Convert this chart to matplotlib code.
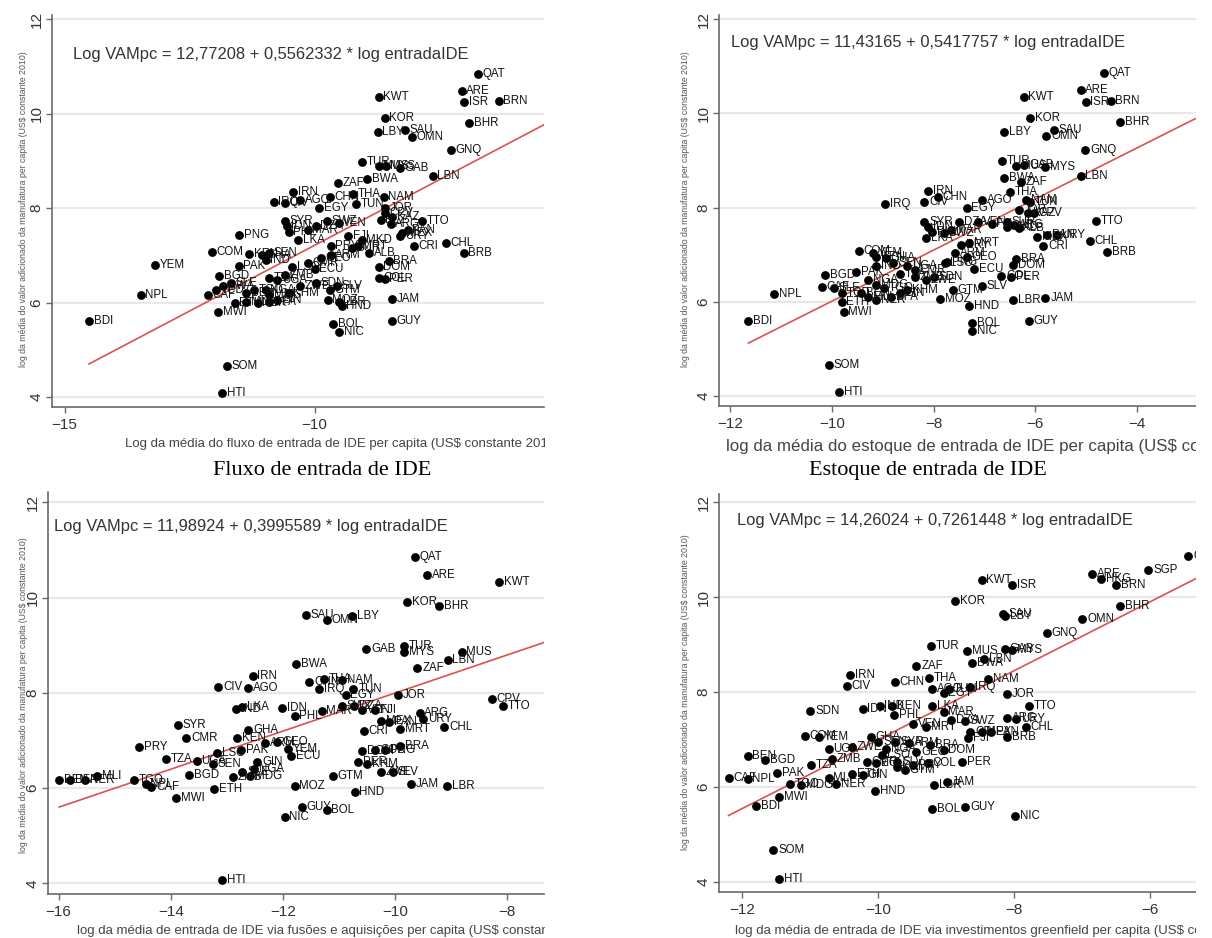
import matplotlib
matplotlib.use("Agg")
import matplotlib.pyplot as plt
from matplotlib.patches import Rectangle

W, H = 1212, 938
plt.rcParams['font.family'] = ['Liberation Sans', 'DejaVu Sans']

# --- painel 1: fluxo de entrada de IDE
cod_fluxo = ["QAT", "ARE", "KWT", "ISR", "BRN", "KOR", "BHR", "LBY", "SAU", "OMN", "GNQ", "TUR", "MUS", "MYS",
             "GAB", "LBN", "BWA", "ZAF", "IRN", "THA", "CHN", "NAM", "IRQ", "CIV", "AGO", "EGY", "TUN", "JOR",
             "CPV", "TTO", "ARG", "URY", "MRT", "CRI", "CHL", "BRB", "BRA", "DOM", "COL", "PER", "JAM", "GUY",
             "SLV", "GTM", "MOZ", "LBR", "HND", "BOL", "NIC", "ECU", "PNG", "COM", "YEM", "NPL", "BDI", "BGD",
             "MWI", "CAF", "ETH", "SOM", "HTI", "PAK", "KEN", "GHA", "SEN", "IND", "SYR", "IDN", "PHL", "LKA",
             "MAR", "DZA", "SWZ", "VEN", "FJI", "SUR", "PRY", "ARM", "GEO", "CMR", "LSO", "ZMB", "UGA", "TZA",
             "NGA", "MDG", "TGO", "BEN", "MLI", "NER", "BFA", "GIN", "KHM", "ZWE", "SDN", "RWA", "SLE", "TCD",
             "MKD", "ALB", "MEX", "PAN", "BLZ", "KAZ"]
x_fluxo = [-6.73, -7.06, -8.72, -7.01, -6.32, -8.60, -6.91, -8.74, -8.20, -8.06, -7.27, -9.06, -8.72, -8.58,
           -8.29, -7.64, -8.95, -9.54, -10.43, -9.23, -9.69, -8.62, -10.82, -10.60, -10.29, -9.91, -9.18, -8.60,
           -8.60, -7.85, -8.48, -8.29, -9.14, -8.02, -7.37, -7.02, -8.52, -8.72, -8.72, -8.60, -8.45, -8.46,
           -9.55, -9.69, -9.74, -9.52, -9.46, -9.63, -9.51, -10.00, -11.51, -12.05, -13.20, -13.48, -14.51, -11.91,
           -11.93, -12.14, -11.60, -11.75, -11.85, -11.52, -11.31, -11.06, -10.91, -10.98, -10.60, -10.56, -10.52, -10.33,
           -10.14, -9.98, -9.75, -9.52, -9.33, -9.25, -9.68, -9.68, -9.87, -10.14, -10.45, -10.60, -10.75, -10.91,
           -10.98, -10.91, -11.22, -11.37, -11.37, -11.14, -10.91, -10.75, -10.52, -10.29, -9.98, -11.83, -11.68, -11.98,
           -9.06, -8.91, -8.25, -8.14, -8.68, -8.45]
y_fluxo = [10.84, 10.48, 10.34, 10.24, 10.27, 9.90, 9.79, 9.60, 9.65, 9.50, 9.23, 8.97, 8.88, 8.90,
           8.84, 8.67, 8.61, 8.54, 8.34, 8.30, 8.23, 8.24, 8.12, 8.10, 8.17, 8.00, 8.09, 8.00,
           7.89, 7.72, 7.67, 7.40, 7.19, 7.19, 7.27, 7.05, 6.89, 6.76, 6.52, 6.50, 6.08, 5.60,
           6.36, 6.26, 6.06, 6.02, 5.92, 5.55, 5.38, 6.71, 7.43, 7.07, 6.80, 6.16, 5.60, 6.57,
           5.79, 6.16, 5.99, 4.65, 4.09, 6.78, 7.03, 7.01, 7.05, 6.90, 7.72, 7.61, 7.50, 7.33,
           7.54, 7.61, 7.72, 7.68, 7.40, 7.15, 7.19, 7.01, 6.94, 6.83, 6.76, 6.59, 6.48, 6.52,
           6.27, 6.16, 6.27, 6.20, 6.02, 5.99, 6.02, 6.06, 6.20, 6.34, 6.41, 6.34, 6.41, 6.27,
           7.33, 7.05, 7.47, 7.54, 7.75, 7.82]

# --- painel 2: estoque de entrada de IDE
cod_estoque = ["QAT", "ARE", "KWT", "ISR", "BRN", "KOR", "BHR", "LBY", "SAU", "OMN", "GNQ", "TUR", "MUS", "GAB",
               "MYS", "LBN", "BWA", "ZAF", "THA", "IRN", "IRQ", "CIV", "AGO", "CHN", "EGY", "TUN", "NAM", "JOR",
               "CPV", "TTO", "ARG", "URY", "CRI", "CHL", "BRB", "MEX", "PAN", "BRA", "DOM", "COL", "PER", "JAM",
               "LBR", "GUY", "SLV", "GTM", "MOZ", "HND", "BOL", "NIC", "ECU", "MRT", "PNG", "COM", "NPL", "BDI",
               "BGD", "SOM", "HTI", "MWI", "ETH", "CAF", "SLE", "TCD", "PAK", "YEM", "KEN", "GHA", "SEN", "IND",
               "TZA", "UGA", "CMR", "NGA", "MDG", "TGO", "BEN", "MLI", "NER", "BFA", "GIN", "KHM", "ZMB", "ZWE",
               "SDN", "SYR", "IDN", "PHL", "LKA", "MAR", "DZA", "SWZ", "VEN", "FJI", "SUR", "PRY", "ARM", "GEO",
               "LSO", "MKD", "ALB", "KAZ"]
x_estoque = [-4.65, -5.11, -6.23, -5.01, -4.52, -6.10, -4.33, -6.61, -5.64, -5.78, -5.02, -6.66, -6.37, -6.22,
             -5.80, -5.11, -6.61, -6.28, -6.50, -8.11, -8.96, -8.18, -7.05, -7.92, -7.35, -6.10, -6.18, -6.33,
             -6.03, -4.80, -6.41, -5.58, -5.84, -4.93, -4.59, -5.97, -5.76, -6.37, -6.44, -6.67, -6.48, -5.80,
             -6.44, -6.13, -7.05, -7.62, -7.88, -7.30, -7.24, -7.24, -7.20, -7.31, -7.73, -9.47, -11.13, -11.64,
             -10.13, -10.06, -9.86, -9.77, -9.81, -10.20, -9.96, -9.81, -9.52, -9.20, -9.13, -8.94, -8.79, -9.13,
             -8.67, -8.52, -8.37, -9.28, -9.13, -8.98, -9.43, -9.28, -9.13, -8.83, -8.67, -8.52, -8.37, -8.15,
             -7.99, -8.18, -8.11, -8.03, -8.15, -7.65, -7.50, -7.80, -7.12, -6.86, -6.56, -7.46, -7.58, -7.35,
             -7.77, -6.56, -6.33, -6.14]
y_estoque = [10.86, 10.49, 10.35, 10.24, 10.27, 9.91, 9.81, 9.61, 9.65, 9.52, 9.23, 8.98, 8.89, 8.90,
             8.87, 8.68, 8.62, 8.55, 8.32, 8.36, 8.07, 8.12, 8.15, 8.22, 7.98, 8.12, 8.17, 7.95,
             7.88, 7.72, 7.63, 7.42, 7.18, 7.28, 7.05, 7.38, 7.42, 6.90, 6.78, 6.55, 6.53, 6.09,
             6.04, 5.60, 6.34, 6.25, 6.06, 5.91, 5.56, 5.39, 6.69, 7.24, 6.85, 7.08, 6.17, 5.60,
             6.57, 4.66, 4.08, 5.79, 6.00, 6.31, 6.29, 6.18, 6.64, 7.03, 6.96, 6.92, 6.82, 6.75,
             6.60, 6.75, 6.67, 6.46, 6.36, 6.29, 6.18, 6.11, 6.04, 6.11, 6.18, 6.25, 6.53, 6.46,
             6.53, 7.70, 7.59, 7.49, 7.35, 7.52, 7.70, 7.45, 7.70, 7.66, 7.70, 7.20, 7.03, 6.96,
             6.82, 7.59, 7.56, 7.88]

# --- painel 3: fusoes e aquisicoes
cod_fa = ["QAT", "ARE", "KWT", "KOR", "BHR", "SAU", "LBY", "OMN", "GAB", "TUR", "MYS", "MUS", "LBN", "ZAF",
          "BWA", "IRN", "CIV", "AGO", "CHN", "THA", "NAM", "IRQ", "TUN", "EGY", "JOR", "CPV", "TTO", "IDN",
          "IND", "LKA", "PHL", "MAR", "SWZ", "DZA", "VEN", "FJI", "ARG", "URY", "MEX", "PAN", "CHL", "MRT",
          "CRI", "SYR", "CMR", "PRY", "GHA", "KEN", "ARM", "GEO", "YEM", "ECU", "PAK", "LSO", "TZA", "UGA",
          "SEN", "BGD", "GIN", "SLE", "MDG", "NGA", "ZMB", "BRA", "DOM", "COL", "PNG", "PER", "KHM", "SLV",
          "ZWE", "GTM", "MOZ", "JAM", "LBR", "HND", "GUY", "BOL", "NIC", "HTI", "ETH", "MWI", "NPL", "CAF",
          "TGO", "MLI", "BEN", "BFA", "NER"]
x_fa = [-9.65, -9.43, -8.14, -9.79, -9.21, -11.59, -10.77, -11.22, -10.51, -9.84, -9.84, -8.81, -9.06, -9.60,
        -11.76, -12.54, -13.15, -12.62, -11.53, -11.26, -10.94, -11.35, -10.74, -10.88, -9.94, -8.27, -8.07, -12.01,
        -12.84, -12.72, -11.79, -11.31, -10.95, -10.73, -10.59, -10.35, -9.56, -9.50, -10.25, -10.11, -9.12, -9.91,
        -10.56, -13.87, -13.72, -14.56, -12.62, -12.82, -12.31, -12.10, -11.90, -11.86, -12.75, -13.17, -14.09, -13.54,
        -13.25, -13.68, -12.46, -12.72, -12.58, -12.51, -12.89, -9.91, -10.58, -10.35, -10.18, -10.66, -10.49, -10.04,
        -10.25, -11.11, -11.79, -9.72, -9.07, -10.72, -11.66, -11.22, -11.97, -13.08, -13.22, -13.91, -14.45, -14.35,
        -14.66, -15.31, -15.99, -15.79, -15.53]
y_fa = [10.85, 10.47, 10.33, 9.90, 9.82, 9.64, 9.62, 9.52, 8.92, 8.99, 8.86, 8.86, 8.68, 8.52,
        8.61, 8.35, 8.12, 8.10, 8.22, 8.29, 8.26, 8.08, 8.08, 7.96, 7.96, 7.87, 7.72, 7.68,
        7.65, 7.70, 7.51, 7.61, 7.72, 7.72, 7.63, 7.63, 7.58, 7.45, 7.40, 7.38, 7.28, 7.24,
        7.19, 7.33, 7.05, 6.86, 7.21, 7.05, 6.95, 6.96, 6.82, 6.68, 6.79, 6.74, 6.60, 6.56,
        6.51, 6.28, 6.54, 6.33, 6.26, 6.40, 6.23, 6.89, 6.77, 6.80, 6.79, 6.54, 6.51, 6.33,
        6.33, 6.26, 6.05, 6.09, 6.04, 5.91, 5.60, 5.53, 5.39, 4.07, 5.98, 5.79, 6.09, 6.02,
        6.16, 6.26, 6.16, 6.16, 6.16]

# --- painel 4: investimentos greenfield
cod_gf = ["QAT", "SGP", "ARE", "HKG", "BRN", "ISR", "KWT", "KOR", "BHR", "SAU", "LBY", "OMN", "GNQ", "TUR",
          "MUS", "GAB", "MYS", "LBN", "BWA", "ZAF", "IRN", "CIV", "CHN", "THA", "AGO", "EGY", "TUN", "NAM",
          "IRQ", "JOR", "TTO", "SDN", "IDN", "IND", "KEN", "PHL", "LKA", "MAR", "DZA", "SWZ", "ARG", "URY",
          "CHL", "CRI", "MEX", "PAN", "BRB", "FJI", "VEN", "MRT", "ARM", "BRA", "DOM", "COL", "PER", "SLV",
          "GTM", "PRY", "JAM", "LBR", "HND", "BOL", "GUY", "NIC", "SOM", "HTI", "BDI", "MWI", "BEN", "BGD",
          "CAF", "NPL", "PAK", "TGO", "MDG", "TZA", "COM", "YEM", "UGA", "ZMB", "MLI", "NER", "ETH", "GIN",
          "CMR", "GHA", "SEN", "NGA", "SYR", "LSO", "KHM", "ZWE", "ECU", "GEO"]
x_gf = [-5.44, -6.03, -6.86, -6.73, -6.51, -8.03, -8.48, -8.87, -6.44, -8.16, -8.14, -7.00, -7.52, -9.22,
        -8.69, -8.14, -8.03, -8.45, -8.62, -9.44, -10.41, -10.46, -9.76, -9.26, -9.21, -9.04, -8.96, -8.39,
        -8.65, -8.11, -7.79, -11.00, -10.23, -9.98, -9.80, -9.77, -9.21, -9.04, -8.93, -8.73, -8.11, -7.97,
        -7.83, -8.65, -8.48, -8.34, -8.10, -8.68, -9.49, -9.30, -9.55, -9.24, -9.04, -9.27, -8.77, -9.72,
        -9.61, -9.49, -8.99, -9.18, -10.04, -9.21, -8.72, -7.99, -11.54, -11.46, -11.79, -11.46, -11.92, -11.66,
        -12.20, -11.92, -11.49, -11.30, -11.13, -10.99, -11.08, -10.87, -10.73, -10.68, -10.73, -10.62, -10.39, -10.23,
        -10.17, -10.11, -10.00, -9.89, -9.75, -9.94, -9.72, -10.39, -10.03, -9.44]
y_gf = [10.86, 10.56, 10.49, 10.39, 10.26, 10.25, 10.36, 9.91, 9.82, 9.64, 9.61, 9.53, 9.25, 8.98,
        8.86, 8.91, 8.88, 8.69, 8.62, 8.54, 8.35, 8.13, 8.22, 8.29, 8.07, 7.99, 8.06, 8.27,
        8.11, 7.96, 7.71, 7.60, 7.64, 7.71, 7.71, 7.51, 7.71, 7.58, 7.42, 7.38, 7.45, 7.44,
        7.26, 7.16, 7.16, 7.16, 7.05, 7.03, 7.33, 7.26, 6.93, 6.89, 6.77, 6.51, 6.53, 6.53,
        6.35, 6.46, 6.11, 6.05, 5.91, 5.54, 5.58, 5.38, 4.67, 4.07, 5.60, 5.79, 6.65, 6.56,
        6.18, 6.16, 6.30, 6.07, 6.04, 6.46, 7.07, 7.05, 6.81, 6.60, 6.18, 6.07, 6.28, 6.26,
        6.53, 7.05, 6.95, 6.81, 6.95, 6.67, 6.42, 6.84, 6.51, 6.74]

# retas ajustadas (Stata lfit)
intercepto = [12.77208, 11.43165, 11.98924, 14.26024]
inclinacao = [0.5562332, 0.5417757, 0.3995589, 0.7261448]

titulos_x = ["Log da média do fluxo de entrada de IDE per capita (US$ constante 2010)",
             "log da média do estoque de entrada de IDE per capita (US$ constante 2010)",
             "log da média de entrada de IDE via fusões e aquisições per capita (US$ constante 2010)",
             "log da média de entrada de IDE via investimentos greenfield per capita (US$ constante 2010)"]
titulo_y = "log da média do valor adicionado da manufatura per capita (US$ constante 2010)"

dados = [(cod_fluxo, x_fluxo, y_fluxo), (cod_estoque, x_estoque, y_estoque),
         (cod_fa, x_fa, y_fa), (cod_gf, x_gf, y_gf)]

# posicoes em pixels: (esq, dir, topo, base), limites, ticks, equacao, xlabel, ylabel
layout = [
    dict(box=(52, 544, 15, 407), xlim=(-15.25, -5.41), ylim=(3.79, 12.085), xt=[-15, -10],
         eq=(73, 55), xl=(125, 444, 9.5), yl=(24, 209)),
    dict(box=(719, 1198, 15, 406), xlim=(-12.22, -2.80), ylim=(3.79, 12.085), xt=[-12, -10, -8, -6, -4],
         eq=(731, 42), xl=(726, 446, 12.2), yl=(685, 209)),
    dict(box=(48, 544, 492, 894), xlim=(-16.19, -7.34), ylim=(3.775, 12.216), xt=[-16, -14, -12, -10, -8],
         eq=(54, 526), xl=(77, 931, 9.5), yl=(24, 695)),
    dict(box=(719, 1198, 494, 892), xlim=(-12.34, -5.30), ylim=(3.79, 12.17), xt=[-12, -10, -8, -6],
         eq=(737, 521), xl=(735, 931, 9.5), yl=(685, 692)),
]

fig = plt.figure(figsize=(W / 100, H / 100), dpi=100)


def fx(px):
    return px / W


def fy(py):
    return 1 - py / H


for i in range(4):
    cod, xs, ys = dados[i]
    lay = layout[i]
    l, r, t, b = lay['box']
    ax = fig.add_axes([fx(l), fy(b), (r - l) / W, (b - t) / H])
    ax.set_xlim(*lay['xlim'])
    ax.set_ylim(*lay['ylim'])
    for s in ['top', 'right']:
        ax.spines[s].set_visible(False)
    for s in ['left', 'bottom']:
        ax.spines[s].set_color('#6a6a6a')
        ax.spines[s].set_linewidth(1.2)
    ax.set_xticks(lay['xt'])
    ax.set_yticks([4, 6, 8, 10, 12])
    ax.tick_params(axis='both', direction='out', length=4, width=1, color='#6a6a6a',
                   labelsize=11, labelcolor='#333333')
    ax.tick_params(axis='x', pad=4)
    ax.tick_params(axis='y', pad=2, labelrotation=90)
    for lab in ax.get_yticklabels():
        lab.set_va('center')
    ax.yaxis.grid(True, color='#e8e8e8', linewidth=1.6)
    ax.set_axisbelow(True)

    # reta ajustada
    x0, x1 = min(xs), lay['xlim'][1]
    ax.plot([x0, x1], [intercepto[i] + inclinacao[i] * x0, intercepto[i] + inclinacao[i] * x1],
            color='#d9534f', linewidth=1.2, zorder=2)
    ax.scatter(xs, ys, s=40, color='black', zorder=3, linewidths=0)
    for c, xv, yv in zip(cod, xs, ys):
        ax.annotate(c, (xv, yv), xytext=(3.5, 0), textcoords='offset points',
                    va='center', ha='left', fontsize=8.3, color='#111111', zorder=4,
                    clip_on=True)

    eq = "Log VAMpc = %.5f + %.7f * log entradaIDE" % (intercepto[i], inclinacao[i])
    fig.text(fx(lay['eq'][0]), fy(lay['eq'][1]), eq.replace('.', ','), fontsize=11.9,
             color='#333333', ha='left', va='center')
    xlx, xly, xls = lay['xl']
    fig.text(fx(xlx), fy(xly), titulos_x[i], fontsize=xls, color='#444444', ha='left', va='center')
    fig.text(fx(lay['yl'][0]), fy(lay['yl'][1]), titulo_y, fontsize=6.3, color='#555555',
             rotation=90, ha='center', va='center')

fig.text(fx(322), fy(470), "Fluxo de entrada de IDE", family='Liberation Serif', fontsize=16,
         ha='center', va='center')
fig.text(fx(928), fy(470), "Estoque de entrada de IDE", family='Liberation Serif', fontsize=16,
         ha='center', va='center')

# recortes da figura original
for (x0, y0, x1, y1) in [(545, 380, 660, 458), (545, 860, 670, 938), (1196, 0, 1212, 938)]:
    fig.add_artist(Rectangle((fx(x0), fy(y1)), (x1 - x0) / W, (y1 - y0) / H,
                             transform=fig.transFigure, facecolor='white', edgecolor='none', zorder=10))

fig.savefig("out.png", dpi=100, facecolor='white')
